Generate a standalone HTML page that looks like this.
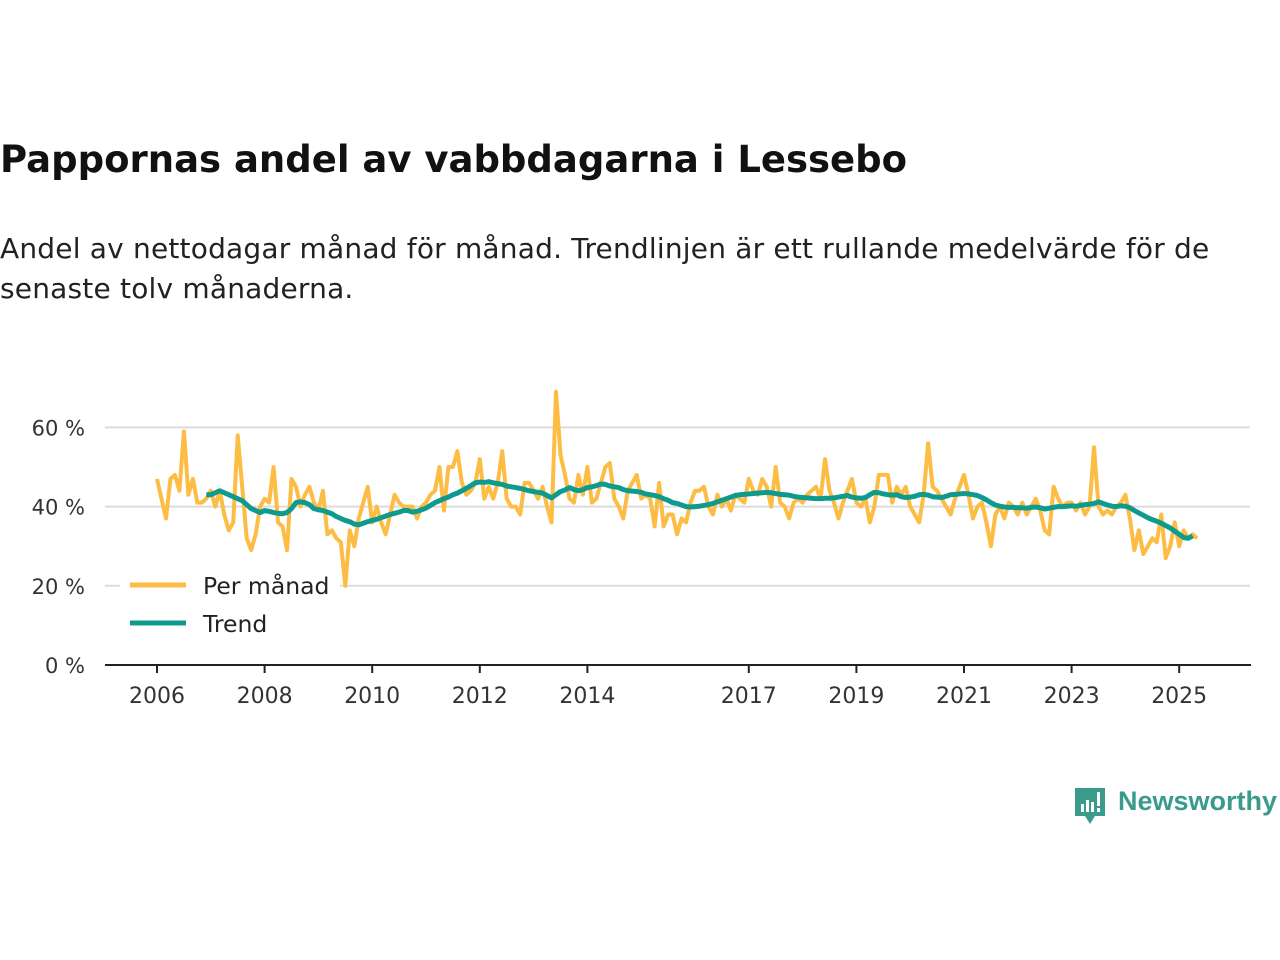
<!DOCTYPE html>
<html><head><meta charset="utf-8">
<style>
body{margin:0;width:1280px;height:960px;background:#fff;font-family:"DejaVu Sans","Liberation Sans",sans-serif;overflow:hidden;position:relative}
h1{position:absolute;left:0;top:138px;margin:0;font-size:37px;font-weight:bold;color:#111;white-space:nowrap}
.sub{position:absolute;left:0;top:229px;margin:0;font-size:28px;line-height:40px;color:#222;width:1240px;letter-spacing:0.2px}
svg{position:absolute;left:0;top:0}
</style></head><body>
<h1>Pappornas andel av vabbdagarna i Lessebo</h1>
<p class="sub">Andel av nettodagar månad för månad. Trendlinjen är ett rullande medelvärde för de senaste tolv månaderna.</p>
<svg id="chart" width="1280" height="960"></svg>
<div style="position:absolute;left:1073px;top:786px;">
<svg width="34" height="42" style="position:absolute;left:0;top:0"><path d="M2 2h30v28h-10l-5 8-5-8H2z" fill="#3a9a8c"/><rect x="8" y="18" width="3" height="8" fill="#fff"/><rect x="13" y="14" width="3" height="12" fill="#fff"/><rect x="18" y="16" width="3" height="10" fill="#fff"/><rect x="24" y="6" width="3" height="14" fill="#fff"/><rect x="24" y="22" width="3" height="4" fill="#fff"/></svg>
<span style="position:absolute;left:45px;top:0px;font-family:'Liberation Sans',sans-serif;font-size:27px;font-weight:bold;color:#3a9a8c;white-space:nowrap">Newsworthy</span>
</div>
<script>
const monthly = [
47,42,37,47,48,44,59,43,47,41,41,42,
44,40,44,38,34,36,58,45,32,29,33,40,
42,41,50,36,35,29,47,45,40,43,45,41,
39,44,33,34,32,31,20,34,30,37,41,45,
36,40,36,33,38,43,41,40,40,40,37,40,
41,43,44,50,39,50,50,54,46,43,44,46,
52,42,45,42,46,54,42,40,40,38,46,46,
44,42,45,40,36,69,53,48,42,41,48,43,
50,41,42,46,50,51,42,40,37,44,46,48,
42,43,42,35,46,35,38,38,33,37,36,41,
44,44,45,40,38,43,40,42,39,43,42,41,
47,44,43,47,45,40,50,41,40,37,41,42,
41,43,44,45,42,52,44,41,37,41,44,47,
41,40,42,36,40,48,48,48,41,45,43,45,
40,38,36,43,56,45,44,42,40,38,42,45,
48,43,37,40,41,36,30,38,40,37,41,40,
38,41,38,40,42,39,34,33,45,42,40,41,
41,39,41,38,40,55,40,38,39,38,40,41,
43,37,29,34,28,30,32,31,38,27,30,36,
30,34,32,33,32];
const trendStart = 11; // December 2006
const trend = [43,
43,43.5,44,43.5,43,42.5,42,41.5,40.5,39.5,39,38.5,
39,38.8,38.5,38.3,38.2,38.5,39.5,41,41.2,41,40.5,39.5,
39.2,39,38.6,38.2,37.5,37,36.5,36.2,35.6,35.4,35.8,36.2,
36.5,36.8,37.2,37.6,38,38.3,38.6,39,39,38.6,38.8,39.2,
39.6,40.3,41,41.5,42,42.4,43,43.4,44,44.6,45.3,46,
46.2,46.1,46.3,46,45.8,45.6,45.2,45,44.8,44.6,44.3,44,
43.8,43.6,43.4,42.8,42.2,43,43.8,44.2,44.8,44.3,44,44.3,
44.8,45,45.3,45.7,45.6,45.2,45,44.8,44.3,44,43.9,43.8,
43.6,43.2,43,42.8,42.5,42,41.6,41,40.8,40.4,40,39.9,
40,40.1,40.3,40.5,40.8,41.2,41.6,42,42.4,42.8,43,43.1,
43.2,43.3,43.4,43.5,43.6,43.5,43.3,43.1,43,42.9,42.6,42.4,
42.3,42.2,42.1,42,42,42.1,42.1,42.2,42.4,42.6,42.8,42.4,
42.2,42.1,42.3,43,43.6,43.5,43.2,43,42.9,43,42.5,42.3,
42.4,42.6,43,43.1,42.9,42.5,42.4,42.3,42.6,43,43.1,43.2,
43.3,43.2,43,42.8,42.3,41.7,41,40.4,40.1,39.9,39.8,39.8,
39.7,39.7,39.6,39.8,39.9,39.7,39.4,39.6,39.8,40,40,40.1,
40.2,40.1,40.3,40.5,40.6,40.8,41.2,40.8,40.4,40.1,40,40.2,
40.1,39.7,39,38.4,37.8,37.2,36.7,36.3,35.8,35.2,34.6,33.8,
33,32.2,32,32.6];
const yTicks = [0,20,40,60];
const xTickYears = [2006,2008,2010,2012,2014,2017,2019,2021,2023,2025];
const startYear = 2006;
const NS='http://www.w3.org/2000/svg';
const svg=document.getElementById('chart');
const FONT='DejaVu Sans, Liberation Sans, sans-serif';
const x0=157, pxYear=53.8, yBase=665, pxPct=3.96;
const X=t=>x0+(t-startYear)*pxYear;
const Y=v=>yBase-v*pxPct;
function mk(tag,attrs){const e=document.createElementNS(NS,tag);for(const k in attrs)e.setAttribute(k,attrs[k]);svg.appendChild(e);return e;}
yTicks.forEach(v=>{
  if(v>0){const g=mk('line',{x1:105,x2:1250,y1:Y(v),y2:Y(v),stroke:'#dcdcdc','stroke-width':2});
  
  }
  const t=mk('text',{x:85,y:Y(v)+8,'text-anchor':'end','font-size':21,fill:'#333','font-family':FONT});
  t.textContent=v+' %';
  
  
});
const ax=mk('line',{x1:105,x2:1251,y1:yBase,y2:yBase,stroke:'#222','stroke-width':2});


xTickYears.forEach(yr=>{
  const tk=mk('line',{x1:X(yr),x2:X(yr),y1:yBase,y2:yBase+8,stroke:'#222','stroke-width':2});
  
  
  const t=mk('text',{x:X(yr),y:yBase+38,'text-anchor':'middle','font-size':22,fill:'#333','font-family':FONT});
  t.textContent=yr;
  
  
});
const pm=mk('polyline',{points:monthly.map((v,i)=>X(startYear+i/12)+','+Y(v)).join(' '),fill:'none',stroke:'#fdbd44','stroke-width':4,'stroke-linejoin':'round'});


const tr=mk('polyline',{points:trend.map((v,i)=>X(startYear+(i+trendStart)/12)+','+Y(v)).join(' '),fill:'none',stroke:'#0f9a8e','stroke-width':5,'stroke-linejoin':'round'});


[['Per månad','#fdbd44',585],['Trend','#0f9a8e',623]].forEach(([lab,col,y])=>{
  const r=mk('rect',{x:120,y:y-18,width:220,height:32,fill:'#fff'});
  
  
  const l=mk('line',{x1:130,x2:186,y1:y,y2:y,stroke:col,'stroke-width':5});
  
  
  const t=mk('text',{x:203,y:y+9,'font-size':23.5,fill:'#222','font-family':FONT});
  t.textContent=lab;
  
  
});
</script>
</body></html>
